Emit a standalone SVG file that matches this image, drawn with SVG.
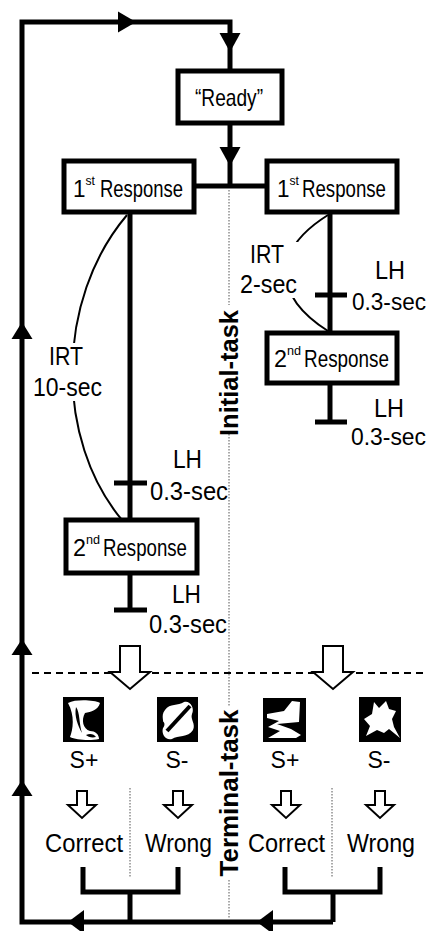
<svg xmlns="http://www.w3.org/2000/svg" width="428" height="931" viewBox="0 0 428 931">
  <style>
    .thick { fill: none; stroke: #000; stroke-width: 5; }
    .box { fill: #fff; stroke: #000; stroke-width: 5; }
    .thin { fill: none; stroke: #000; stroke-width: 2; }
    .dot { fill: none; stroke: #555; stroke-width: 1; stroke-dasharray: 1.5 1.5; }
    .dash { fill: none; stroke: #000; stroke-width: 2; stroke-dasharray: 7 5; }
    .hollow { fill: #fff; stroke: #000; stroke-width: 2; stroke-linejoin: miter; }
    .head { fill: #000; stroke: none; }
    text { font-family: "Liberation Sans", Arial, sans-serif; fill: #000; }
    .lbl { font-size: 25px; }
    .lbl-r { font-size: 23px; }
    .stim { font-size: 23px; }
    .box-t { font-size: 24px; }
    .sup { font-size: 13px; }
    .task { font-size: 26px; font-weight: bold; }
  </style>

  <rect width="428" height="931" fill="#fff"/>

  <!-- task divider lines -->
  <g id="dividers">
    <line class="dot" x1="229" y1="190" x2="229" y2="305"/>
    <line class="dot" x1="229" y1="434" x2="229" y2="706"/>
    <line class="dot" x1="229" y1="880" x2="229" y2="918"/>
    <line class="dot" x1="130" y1="788" x2="130" y2="878"/>
    <line class="dot" x1="332" y1="788" x2="332" y2="878"/>
    <line class="dash" x1="32" y1="673" x2="428" y2="673"/>
  </g>

  <!-- connectors -->
  <g id="connectors">
    <!-- outer return loop -->
    <polyline class="thick" points="230,123 230,22 22,22 22,922 333,922"/>
    <polygon class="head" points="136,22 118,11.5 118,32.5"/>
    <polygon class="head" points="230,52 219.5,33 240.5,33"/>
    <polygon class="head" points="22,322 11.5,339 32.5,339"/>
    <polygon class="head" points="22,639 11.5,655 32.5,655"/>
    <polygon class="head" points="22,780 11.5,796 32.5,796"/>
    <polygon class="head" points="68,922 84,910 84,934"/>
    <polygon class="head" points="257,922 273,910 273,934"/>

    <!-- Ready to first responses -->
    <line class="thick" x1="230" y1="123" x2="230" y2="186"/>
    <polygon class="head" points="230,166 219.5,147 240.5,147"/>
    <line class="thick" x1="194" y1="186" x2="267" y2="186"/>

    <!-- left chain -->
    <line class="thick" x1="130" y1="212" x2="130" y2="520"/>
    <line class="thick" x1="114" y1="483" x2="147" y2="483"/>
    <line class="thick" x1="130" y1="573" x2="130" y2="610"/>
    <line class="thick" x1="114" y1="610" x2="147" y2="610"/>
    <path class="thin" d="M127,215 C55,300 55,440 122,520"/>

    <!-- right chain -->
    <line class="thick" x1="330" y1="212" x2="330" y2="333"/>
    <line class="thick" x1="315" y1="295" x2="347" y2="295"/>
    <line class="thick" x1="330" y1="383" x2="330" y2="422"/>
    <line class="thick" x1="315" y1="422" x2="347" y2="422"/>
    <path class="thin" d="M328,215 C272,250 272,295 328,331"/>

    <!-- gaps for the IRT labels -->
    <rect x="36" y="343" width="72" height="58" fill="#fff"/>
    <rect x="237" y="242" width="64" height="56" fill="#fff"/>

    <!-- outcome brackets -->
    <polyline class="thick" points="83,867 83,892 178,892 178,867"/>
    <line class="thick" x1="130" y1="892" x2="130" y2="922"/>
    <polyline class="thick" points="285,867 285,892 380,892 380,867"/>
    <line class="thick" x1="333" y1="892" x2="333" y2="922"/>

    <!-- hollow arrows into the terminal task -->
    <polygon class="hollow" points="120,646 140,646 140,672 150,672 130,689 110,672 120,672"/>
    <polygon class="hollow" points="323,646 343,646 343,672 353,672 333,689 313,672 323,672"/>
    <polygon class="hollow" points="77,791 87,791 87,805 96,805 82,818 68,805 77,805"/>
    <polygon class="hollow" points="173,791 183,791 183,805 192,805 178,818 164,805 173,805"/>
    <polygon class="hollow" points="281,791 291,791 291,805 300,805 286,818 272,805 281,805"/>
    <polygon class="hollow" points="375,791 385,791 385,805 394,805 380,818 366,805 375,805"/>
  </g>

  <!-- nodes -->
  <g id="ready">
    <rect class="box" x="178" y="71" width="104" height="52"/>
    <text class="box-t" x="195" y="106" textLength="68" lengthAdjust="spacingAndGlyphs">“Ready”</text>
  </g>

  <g id="first-left">
    <rect class="box" x="64" y="161" width="130" height="51"/>
    <text class="box-t" x="73" y="197" textLength="22" lengthAdjust="spacingAndGlyphs">1<tspan class="sup" dy="-12">st</tspan></text>
    <text class="box-t" x="100" y="197" textLength="83" lengthAdjust="spacingAndGlyphs">Response</text>
  </g>

  <g id="first-right">
    <rect class="box" x="267" y="161" width="130" height="51"/>
    <text class="box-t" x="277" y="197" textLength="22" lengthAdjust="spacingAndGlyphs">1<tspan class="sup" dy="-12">st</tspan></text>
    <text class="box-t" x="302" y="197" textLength="84" lengthAdjust="spacingAndGlyphs">Response</text>
  </g>

  <g id="second-right">
    <rect class="box" x="267" y="333" width="130" height="50"/>
    <text class="box-t" x="274" y="367" textLength="27" lengthAdjust="spacingAndGlyphs">2<tspan class="sup" dy="-12">nd</tspan></text>
    <text class="box-t" x="304" y="367" textLength="85" lengthAdjust="spacingAndGlyphs">Response</text>
  </g>

  <g id="second-left">
    <rect class="box" x="66" y="520" width="131" height="53"/>
    <text class="box-t" x="73" y="556" textLength="27" lengthAdjust="spacingAndGlyphs">2<tspan class="sup" dy="-12">nd</tspan></text>
    <text class="box-t" x="103" y="556" textLength="84" lengthAdjust="spacingAndGlyphs">Response</text>
  </g>

  <!-- timing labels -->
  <g id="timing">
    <text class="lbl" x="49" y="365" textLength="34" lengthAdjust="spacingAndGlyphs">IRT</text>
    <text class="lbl" x="33" y="396" textLength="69" lengthAdjust="spacingAndGlyphs">10-sec</text>
    <text class="lbl" x="250" y="263" textLength="34" lengthAdjust="spacingAndGlyphs">IRT</text>
    <text class="lbl" x="240" y="293" textLength="57" lengthAdjust="spacingAndGlyphs">2-sec</text>
    <text class="lbl" x="375" y="279" textLength="30" lengthAdjust="spacingAndGlyphs">LH</text>
    <text class="lbl-r" x="352" y="310" textLength="74" lengthAdjust="spacingAndGlyphs">0.3-sec</text>
    <text class="lbl" x="374" y="417" textLength="30" lengthAdjust="spacingAndGlyphs">LH</text>
    <text class="lbl-r" x="351" y="445" textLength="75" lengthAdjust="spacingAndGlyphs">0.3-sec</text>
    <text class="lbl" x="173" y="468" textLength="29" lengthAdjust="spacingAndGlyphs">LH</text>
    <text class="lbl" x="150" y="500" textLength="78" lengthAdjust="spacingAndGlyphs">0.3-sec</text>
    <text class="lbl" x="172" y="603" textLength="29" lengthAdjust="spacingAndGlyphs">LH</text>
    <text class="lbl" x="149" y="633" textLength="78" lengthAdjust="spacingAndGlyphs">0.3-sec</text>
  </g>

  <!-- task names -->
  <g id="task-labels">
    <text class="task" transform="translate(238,373) rotate(-90)" text-anchor="middle" textLength="126" lengthAdjust="spacingAndGlyphs">Initial-task</text>
    <text class="task" transform="translate(238,793) rotate(-90)" text-anchor="middle" textLength="167" lengthAdjust="spacingAndGlyphs">Terminal-task</text>
  </g>

  <!-- stimulus shapes -->
  <g id="stim-1">
    <rect x="63" y="697" width="41" height="45" fill="#000"/>
    <path fill="#fff" d="M68,703 C76,699 94,700 100,703 C98,710 91,712 85,713 C81,720 83,729 90,731 C95,731 99,734 99,739 C90,741 76,740 70,737 C73,729 75,716 68,703 Z"/>
    <path fill="#000" d="M76,707 C80,712 79,724 82,733 C78,726 74,716 76,707 Z"/>
    <path fill="#000" d="M86,735 C90,733 94,734 96,737 C92,738 88,737 86,735 Z"/>
  </g>
  <g id="stim-2">
    <rect x="157" y="697" width="41" height="45" fill="#000"/>
    <path fill="#fff" d="M165,710 C170,703 178,706 184,702 C190,700 195,708 192,714 C190,719 196,724 193,730 C188,738 178,735 172,739 C166,741 161,734 163,728 C165,722 160,716 165,710 Z"/>
    <line x1="167" y1="731" x2="190" y2="706" stroke="#000" stroke-width="4"/>
    <path fill="#000" d="M160,722 C164,720 166,724 163,728 Z"/>
  </g>
  <g id="stim-3">
    <rect x="263" y="698" width="43" height="44" fill="#000"/>
    <path fill="#fff" d="M267,714 L284,711 L292,701 L300,702 L299,722 L277,724 L291,729 L301,735 L296,738 L268,738 L280,731 L268,727 L279,721 L267,718 Z"/>
  </g>
  <g id="stim-4">
    <rect x="359" y="697" width="42" height="45" fill="#000"/>
    <path fill="#fff" d="M374,702 L379,708 L386,701 L389,709 L396,711 L392,719 L394,727 L400,738 L389,729 L384,733 L377,730 L366,736 L370,726 L364,719 L372,714 Z"/>
  </g>

  <!-- stimulus and outcome labels -->
  <g id="outcomes">
    <text class="stim" x="84" y="768" text-anchor="middle">S+</text>
    <text class="stim" x="177" y="768" text-anchor="middle">S-</text>
    <text class="stim" x="285" y="768" text-anchor="middle">S+</text>
    <text class="stim" x="379" y="768" text-anchor="middle">S-</text>
    <text class="lbl" x="45" y="852" textLength="78" lengthAdjust="spacingAndGlyphs">Correct</text>
    <text class="lbl" x="145" y="852" textLength="67" lengthAdjust="spacingAndGlyphs">Wrong</text>
    <text class="lbl" x="248" y="852" textLength="77" lengthAdjust="spacingAndGlyphs">Correct</text>
    <text class="lbl" x="347" y="852" textLength="68" lengthAdjust="spacingAndGlyphs">Wrong</text>
  </g>
</svg>
